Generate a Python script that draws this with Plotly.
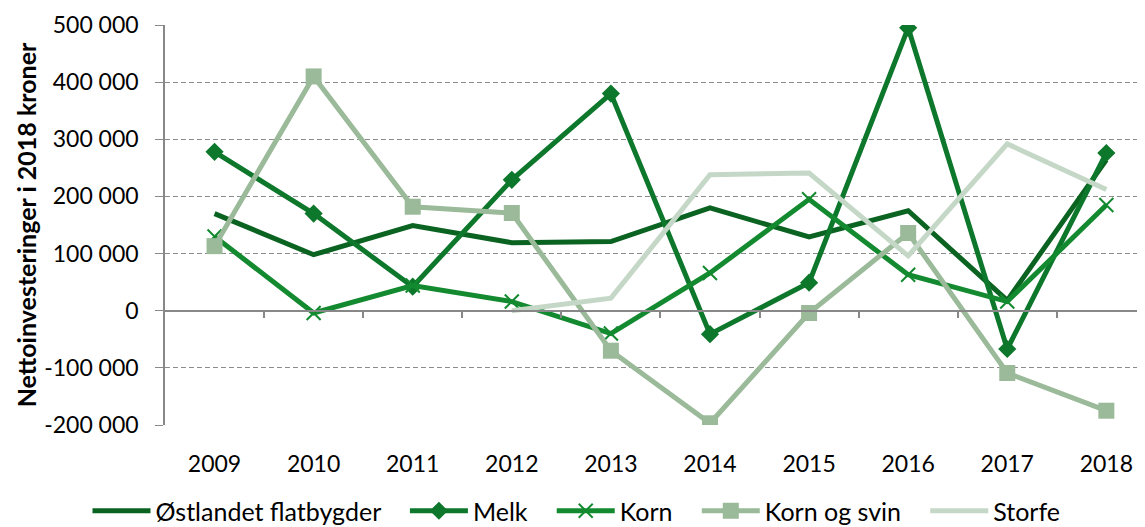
import plotly.graph_objects as go

years = ["2009", "2010", "2011", "2012", "2013", "2014", "2015", "2016", "2017", "2018"]
ostlandet = [170000, 98000, 149000, 119000, 121000, 180000, 129000, 175000, 18000, 264000]
melk = [278000, 170000, 42000, 229000, 380000, -41000, 49000, 495000, -67000, 276000]
korn = [130000, -4000, 44000, 16000, -40000, 66000, 195000, 63000, 16000, 185000]
korn_svin = [113000, 410000, 182000, 171000, -70000, -197000, -4000, 136000, -109000, -175000]
storfe = [None, None, None, 0, 22000, 238000, 241000, 96000, 292000, 212000]

y_ticks = [-200000, -100000, 0, 100000, 200000, 300000, 400000, 500000]
y_labels = ["-200 000", "-100 000", "0", "100 000", "200 000", "300 000", "400 000", "500 000"]

xi = list(range(len(years)))
FONT = "Lato"
PAD = "\u00a0\u00a0\u00a0"

fig = go.Figure()
fig.add_trace(go.Scatter(x=xi, y=ostlandet, name="Østlandet flatbygder" + PAD, mode="lines",
                         line=dict(color="#0b6321", width=5)))
fig.add_trace(go.Scatter(x=xi, y=melk, name="Melk" + PAD, mode="lines+markers",
                         line=dict(color="#0d772b", width=5),
                         marker=dict(symbol="diamond", size=14, color="#0d772b")))
fig.add_trace(go.Scatter(x=xi, y=korn, name="Korn" + PAD, mode="lines+markers",
                         line=dict(color="#138a2f", width=5),
                         marker=dict(symbol="x-thin", size=14, color="#138a2f",
                                     line=dict(color="#138a2f", width=2))))
fig.add_trace(go.Scatter(x=xi, y=korn_svin, name="Korn og svin" + PAD, mode="lines+markers",
                         line=dict(color="#9aba99", width=5),
                         marker=dict(symbol="square", size=16, color="#9aba99")))
fig.add_trace(go.Scatter(x=xi, y=storfe, name="Storfe", mode="lines",
                         line=dict(color="#c5d8c7", width=5), connectgaps=False))

# page body has an 8px margin, so the figure is sized to fit the window
fig.update_layout(
    width=1137, height=519,
    margin=dict(l=157, r=0, t=17, b=102, autoexpand=False),
    paper_bgcolor="white", plot_bgcolor="white",
    font=dict(family=FONT, size=23, color="black"),
    showlegend=True,
    legend=dict(orientation="h", xref="container", x=0.5, xanchor="center",
                y=-0.215, yanchor="middle",
                font=dict(size=25), itemwidth=58, tracegroupgap=0),
    xaxis=dict(range=[-0.5, 9.39], tickmode="array", tickvals=xi, ticktext=years,
               showgrid=False, zeroline=False, showline=False,
               ticks="outside", ticklen=18, tickcolor="rgba(0,0,0,0)",
               tickfont=dict(size=23), fixedrange=True, automargin=False),
    xaxis2=dict(range=[-0.5, 9.39], overlaying="x", anchor="free", position=2/7,
                side="bottom", tickmode="array",
                tickvals=[i + 0.5 for i in xi], showticklabels=False,
                ticks="outside", ticklen=7, tickcolor="#888888", tickwidth=1.5,
                showline=True, linecolor="#888888", linewidth=1.5,
                showgrid=False, zeroline=False, automargin=False),
    yaxis=dict(range=[-200000, 500000], tickmode="array", tickvals=y_ticks, ticktext=y_labels,
               showgrid=True, gridcolor="#8c8c8c", griddash="5px,3px", gridwidth=1.3,
               zeroline=True, zerolinecolor="#888888", zerolinewidth=1.5,
               showline=True, linecolor="#888888", linewidth=1.5,
               ticks="outside", ticklen=8, tickcolor="#888888",
               ticklabelstandoff=12,
               tickfont=dict(size=23), automargin=False,
               title=dict(text="<b>Nettoinvesteringer i 2018 kroner</b>", font=dict(size=25),
                          standoff=0)),
)
# invisible trace to activate the zero-crossing category axis
fig.add_trace(go.Scatter(x=[0], y=[None], xaxis="x2", showlegend=False, hoverinfo="skip"))

fig.write_html("out.html")
